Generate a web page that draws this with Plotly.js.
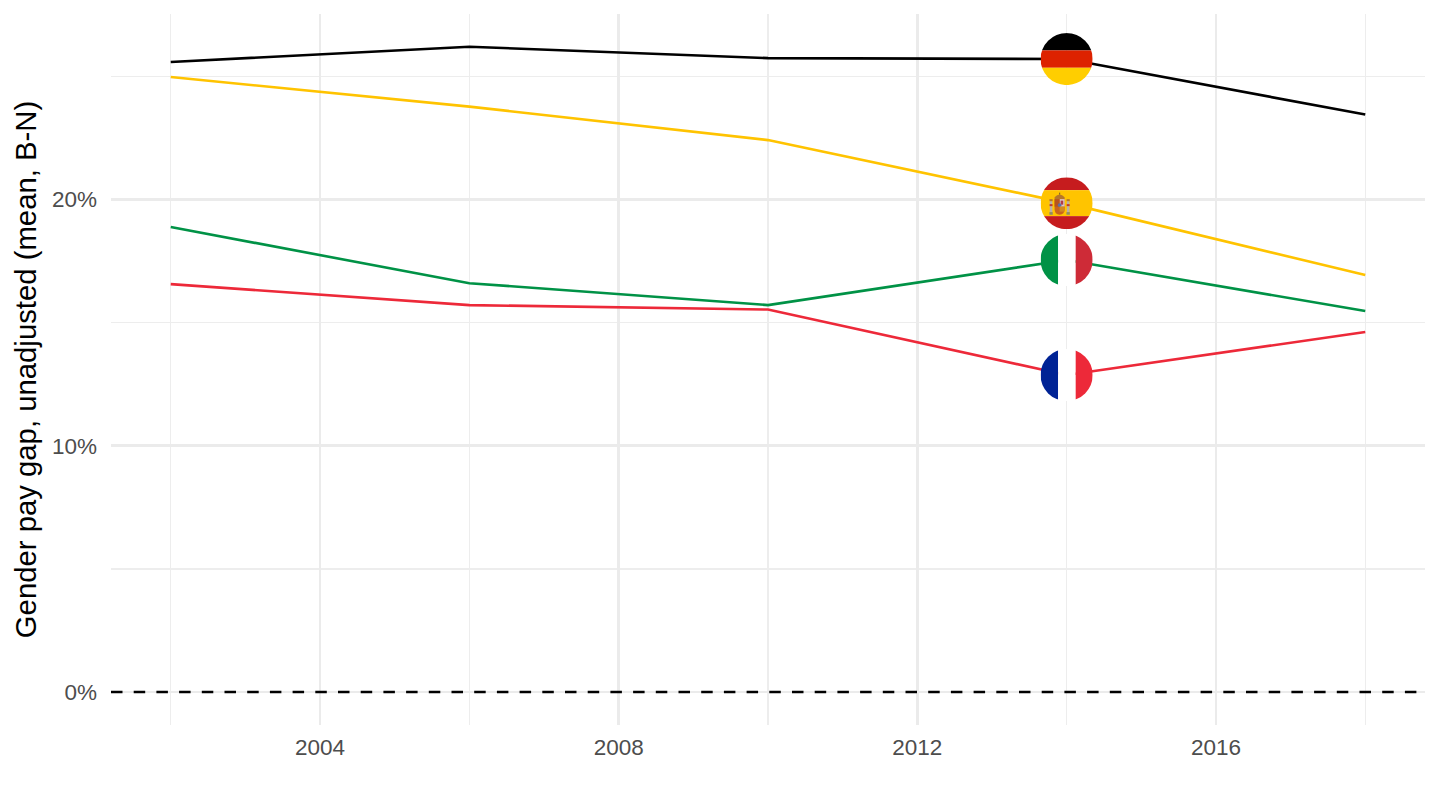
<!DOCTYPE html>
<html>
<head>
<meta charset="utf-8">
<script src="https://cdn.plot.ly/plotly-3.0.1.min.js"></script>
<style>html,body{margin:0;padding:0;background:#fff}#chart{width:1440px;height:810px}</style>
</head>
<body>
<div id="chart"></div>
<script>
const years = [2002, 2006, 2010, 2014, 2018];
const germany = [25.58, 26.2, 25.74, 25.7, 23.45];
const spain = [24.97, 23.77, 22.41, 19.85, 16.93];
const italy = [18.88, 16.6, 15.71, 17.54, 15.47];
const france = [16.56, 15.71, 15.53, 12.87, 14.62];

const lineColors = {de: '#000000', es: '#FFC300', it: '#009246', fr: '#ED2939'};
const flagYear = 2014;

function svgFlag(inner) {
  const s = '<svg xmlns="http://www.w3.org/2000/svg" width="208" height="208" viewBox="0 0 52 52">' +
    '<defs><clipPath id="c"><circle cx="26" cy="26" r="26"/></clipPath></defs>' +
    '<g clip-path="url(#c)">' + inner + '</g></svg>';
  return 'data:image/svg+xml;charset=utf-8,' + encodeURIComponent(s);
}
const flagDE = svgFlag(
  '<rect width="52" height="17.3" fill="#000"/>' +
  '<rect y="17.3" width="52" height="17.4" fill="#DD2200"/>' +
  '<rect y="34.7" width="52" height="17.3" fill="#FFCE00"/>');
const flagES = svgFlag(
  '<rect width="52" height="13" fill="#C61C1E"/>' +
  '<rect y="13" width="52" height="26" fill="#FFC400"/>' +
  '<rect y="39" width="52" height="13" fill="#C61C1E"/>' +
  // coat of arms
  '<rect x="9.2" y="24" width="2.6" height="11" fill="#B9B0A8"/>' +
  '<rect x="8.8" y="35" width="3.4" height="2.6" fill="#8D8A6A"/>' +
  '<rect x="8.9" y="22" width="3.2" height="2" fill="#B5762A"/>' +
  '<rect x="26.2" y="24" width="2.6" height="11" fill="#B9B0A8"/>' +
  '<rect x="25.8" y="35" width="3.4" height="2.6" fill="#8D8A6A"/>' +
  '<rect x="25.9" y="22" width="3.2" height="2" fill="#B5762A"/>' +
  '<rect x="9" y="27" width="3" height="2" fill="#C0392B"/>' +
  '<rect x="26" y="27" width="3" height="2" fill="#C0392B"/>' +
  '<path d="M14 20 Q19 14.5 24 20 L24 22 L14 22 Z" fill="#B5762A"/>' +
  '<rect x="18.4" y="15.5" width="1.2" height="2" fill="#8D6A1E"/>' +
  '<path d="M14 22 H24 V32 Q24 37 19 37.5 Q14 37 14 32 Z" fill="#C9651C"/>' +
  '<rect x="19" y="22" width="5" height="7.5" fill="#D9C7C7"/>' +
  '<rect x="20" y="23.5" width="2.6" height="4" fill="#B03A4A"/>' +
  '<rect x="14" y="22" width="5" height="7.5" fill="#B5541E"/>' +
  '<circle cx="19" cy="28" r="1.8" fill="#5B6FA8"/>' +
  '<rect x="19" y="29.5" width="5" height="5" fill="#D28A20"/>');
const flagIT = svgFlag(
  '<rect width="17.5" height="52" fill="#009246"/>' +
  '<rect x="17.5" width="17.5" height="52" fill="#FFFFFF"/>' +
  '<rect x="35" width="17" height="52" fill="#CE2B37"/>');
const flagFR = svgFlag(
  '<rect width="17.5" height="52" fill="#002395"/>' +
  '<rect x="17.5" width="17.5" height="52" fill="#FFFFFF"/>' +
  '<rect x="35" width="17" height="52" fill="#ED2939"/>');

const flagSeries = [[germany, flagDE], [spain, flagES], [italy, flagIT], [france, flagFR]];

function lineTrace(name, y, color) {
  return {type: 'scatter', mode: 'lines', name, x: years, y,
    line: {color, width: 2.6}, hoverinfo: 'x+y+name'};
}

const data = [
  lineTrace('Germany', germany, lineColors.de),
  lineTrace('Spain', spain, lineColors.es),
  lineTrace('Italy', italy, lineColors.it),
  lineTrace('France', france, lineColors.fr)
];

const tickFont = {family: '"Liberation Sans", Arial, sans-serif', size: 22.5, color: '#4D4D4D'};

const layout = {
  width: 1440, height: 810,
  margin: {l: 111, r: 15, t: 14, b: 85, pad: 0},
  paper_bgcolor: '#fff', plot_bgcolor: '#fff',
  showlegend: false,
  xaxis: {
    range: [2001.2, 2018.8], tickmode: 'array',
    tickvals: [2004, 2008, 2012, 2016], ticktext: ['2004', '2008', '2012', '2016'],
    showgrid: true, gridcolor: '#EBEBEB', gridwidth: 2.8, zeroline: false, showline: false,
    ticks: '', tickfont: tickFont, ticklabelstandoff: 6,
    minor: {tickvals: [2002, 2006, 2010, 2014, 2018], showgrid: true, gridcolor: '#EDEDED', gridwidth: 1.4, ticks: ''}
  },
  yaxis: {
    range: [-1.34, 27.53], tickmode: 'array',
    tickvals: [0, 10, 20], ticktext: ['0%', '10%', '20%'],
    showgrid: true, gridcolor: '#EBEBEB', gridwidth: 2.8, zeroline: false, showline: false,
    ticks: '', tickfont: tickFont, ticklabelstandoff: 13,
    minor: {tickvals: [5, 15, 25], showgrid: true, gridcolor: '#EDEDED', gridwidth: 1.4, ticks: ''},
    title: {text: 'Gender pay gap, unadjusted (mean, B-N)', standoff: 6,
      font: {family: '"Liberation Sans", Arial, sans-serif', size: 29.3, color: '#000'}}
  },
  shapes: [{type: 'line', xref: 'paper', yref: 'y', x0: 0, x1: 1, y0: 0, y1: 0, layer: 'above',
    line: {color: '#000', width: 2.6, dash: '11.5px,11.2px'}}],
  images: flagSeries.map(([vals, src]) => ({
    source: src, xref: 'x', yref: 'y',
    x: flagYear, y: vals[years.indexOf(flagYear)],
    sizex: 0.70, sizey: 2.11, sizing: 'stretch',
    xanchor: 'center', yanchor: 'middle', layer: 'above'
  }))
};

Plotly.newPlot('chart', data, layout, {displayModeBar: false, staticPlot: true});
</script>
</body>
</html>
